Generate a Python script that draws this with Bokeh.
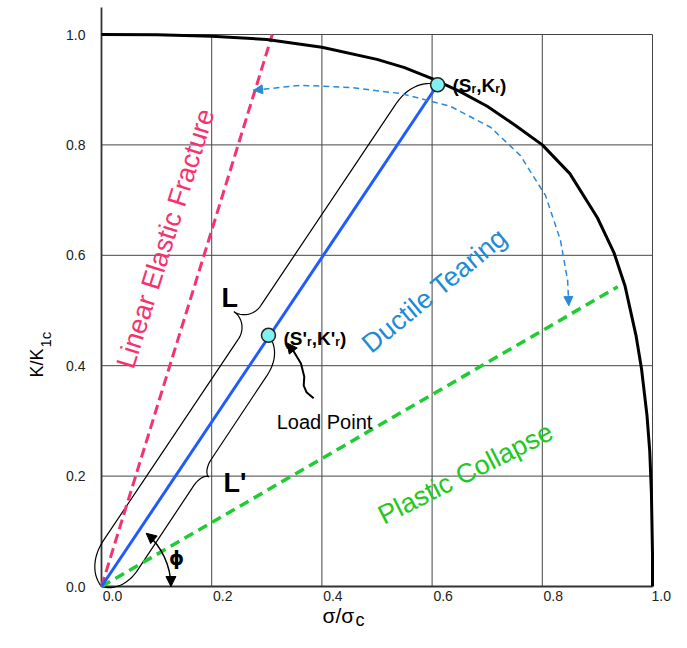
import numpy as np
from bokeh.plotting import figure
from bokeh.models import Range1d, FixedTicker, Label, Arrow, NormalHead
from bokeh.embed import file_html
from bokeh.resources import INLINE

# ---------------- data ----------------
tick_values = [0.0, 0.2, 0.4, 0.6, 0.8, 1.0]
tick_labels = ["0.0", "0.2", "0.4", "0.6", "0.8", "1.0"]
grid_values = [0.2, 0.4, 0.6, 0.8, 1.0]

# failure assessment curve
fad_s = [0.0, 0.1, 0.2, 0.3, 0.4, 0.5, 0.55, 0.6, 0.65, 0.7, 0.75, 0.8, 0.85,
         0.9, 0.93, 0.95, 0.97, 0.98, 0.99, 0.995, 0.998, 1.0, 1.0]
fad_k = [1.0, 0.9997, 0.997, 0.991, 0.977, 0.955, 0.940, 0.920, 0.897, 0.870,
         0.836, 0.800, 0.748, 0.668, 0.605, 0.545, 0.455, 0.395, 0.31, 0.245,
         0.17, 0.06, 0.0]

origin = (0.0, 0.0)
sr_point = (0.61, 0.909)      # (Sr, Kr)
load_point = (0.303, 0.455)   # (S'r, K'r)
lef_end = (0.31, 1.0)         # linear elastic fracture line end
pc_end = (0.937, 0.543)       # plastic collapse line end

# ductile tearing sweep arrow
arc_s = [0.276, 0.361, 0.452, 0.543, 0.633, 0.706, 0.760, 0.806, 0.833, 0.846, 0.848]
arc_k = [0.899, 0.908, 0.904, 0.893, 0.870, 0.832, 0.781, 0.708, 0.627, 0.554, 0.509]

# load point pointer
ptr_s = [0.385, 0.372, 0.367, 0.368, 0.362, 0.350, 0.343]
ptr_k = [0.341, 0.352, 0.364, 0.380, 0.404, 0.424, 0.433]

phi_radius = 0.126
phi_angle = 0.87

PX = 1 / 551.5  # data units per screen pixel

W, H = 671, 632
X0, X1 = -101 / 551.0, (W - 101) / 551.0
Y0, Y1 = -(H - 586) / 552.0, 586 / 552.0
Y_AXIS_TOP = 579 / 552.0

p = figure(width=W, height=H, x_range=Range1d(X0, X1), y_range=Range1d(Y0, Y1),
           output_backend="svg", toolbar_location=None,
           min_border=0, min_border_left=0, min_border_right=0, min_border_top=0, min_border_bottom=0)
p.outline_line_color = None
p.xgrid.visible = False
p.ygrid.visible = False

FONT = "Liberation Sans"

xshift = [0.02, 0.02, 0.02, 0.02, 0.02, 0.016]
xa = p.xaxis[0]
xa.ticker = FixedTicker(ticks=[t + s for t, s in zip(tick_values, xshift)])
xa.major_label_overrides = {t + s: lab for t, s, lab in zip(tick_values, xshift, tick_labels)}
ya = p.yaxis[0]
ya.ticker = FixedTicker(ticks=tick_values)
ya.major_label_overrides = {t: lab for t, lab in zip(tick_values, tick_labels)}
for ax, so in ((xa, 4), (ya, 16)):
    ax.fixed_location = 0
    ax.axis_line_color = None
    ax.major_tick_line_color = None
    ax.minor_tick_line_color = None
    ax.major_tick_out = 0
    ax.major_tick_in = 0
    ax.major_label_standoff = so
    ax.major_label_text_font = FONT
    ax.major_label_text_font_size = "14px"
    ax.major_label_text_color = "#222222"

# grid box
n = len(grid_values)
p.segment(x0=grid_values, y0=[0] * n, x1=grid_values, y1=[1.0] * n, line_color="#454545", line_width=1)
p.segment(x0=[0] * n, y0=grid_values, x1=[1.0] * n, y1=grid_values, line_color="#454545", line_width=1)
p.segment(x0=[0, 0], y0=[0, 0], x1=[0, 1.0], y1=[Y_AXIS_TOP, 0], line_color="#333333", line_width=1.8)

# braces
def bez(p0, p1, p2, p3, m=24):
    t = np.linspace(0, 1, m)[:, None]
    return ((1 - t) ** 3) * p0 + 3 * ((1 - t) ** 2) * t * p1 + 3 * (1 - t) * t ** 2 * p2 + t ** 3 * p3

def brace(a, b, side, d, D, c, ce):
    a = np.array(a, float); b = np.array(b, float)
    L = np.linalg.norm(b - a); u = (b - a) / L
    nn = np.array([-u[1], u[0]]) * side
    P = lambda t, s: a + u * t + nn * s
    m = L / 2
    pts = [
        bez(P(0, 0), P(0.1 * ce, 0.55 * d), P(0.45 * ce, d), P(ce, d)),
        bez(P(m - c, d), P(m - 0.45 * c, d), P(m, d + 0.45 * (D - d)), P(m, D)),
        bez(P(m, D), P(m, d + 0.45 * (D - d)), P(m + 0.45 * c, d), P(m + c, d)),
        bez(P(L - ce, d), P(L - 0.45 * ce, d), P(L - 0.1 * ce, 0.55 * d), P(L, 0)),
    ]
    arr = np.vstack(pts)
    return arr[:, 0], arr[:, 1]

bx, by = brace(origin, sr_point, +1, 24 * PX, 43 * PX, 20 * PX, 40 * PX)
p.line(bx, by, line_color="black", line_width=1.2)
bx, by = brace(origin, load_point, -1, 21 * PX, 29 * PX, 16 * PX, 34 * PX)
p.line(bx, by, line_color="black", line_width=1.2)

# main lines
p.line([origin[0], lef_end[0]], [origin[1], lef_end[1]], line_color="#f5336e", line_width=3, line_dash="10 5")
p.line([origin[0], pc_end[0]], [origin[1], pc_end[1]], line_color="#1fcc33", line_width=3.5, line_dash="10 6")
p.line(fad_s, fad_k, line_color="black", line_width=3)
p.line([origin[0], sr_point[0]], [origin[1], sr_point[1]], line_color="#1f5cff", line_width=3)

# sweep arc
ARC_C = "#2a8ad8"
p.line(arc_s, arc_k, line_color=ARC_C, line_width=1.5, line_dash="6 4")
for i0, i1 in ((1, 0), (-2, -1)):
    p.add_layout(Arrow(end=NormalHead(size=9, fill_color=ARC_C, line_color=ARC_C),
                       x_start=arc_s[i0], y_start=arc_k[i0], x_end=arc_s[i1], y_end=arc_k[i1],
                       line_alpha=0))

# phi arc
p.arc(x=0, y=0, radius=phi_radius, start_angle=0, end_angle=phi_angle, line_color="black", line_width=1.5)
p.add_layout(Arrow(end=NormalHead(size=10, fill_color="black", line_color="black"),
                   x_start=phi_radius, y_start=0.02, x_end=phi_radius, y_end=0.0, line_alpha=0))
ex, ey = phi_radius * np.cos(phi_angle), phi_radius * np.sin(phi_angle)
p.add_layout(Arrow(end=NormalHead(size=10, fill_color="black", line_color="black"),
                   x_start=ex + 0.02 * np.sin(phi_angle), y_start=ey - 0.02 * np.cos(phi_angle),
                   x_end=ex, y_end=ey, line_alpha=0))

# pointer
p.line(ptr_s, ptr_k, line_color="black", line_width=2)
p.add_layout(Arrow(end=NormalHead(size=10, fill_color="black", line_color="black"),
                   x_start=ptr_s[-2], y_start=ptr_k[-2], x_end=ptr_s[-1] - 0.006, y_end=ptr_k[-1] + 0.008,
                   line_alpha=0))

# points
p.scatter([sr_point[0], load_point[0]], [sr_point[1], load_point[1]], size=14,
          fill_color="#80f0f0", line_color="#222222", line_width=1.5)

def txt(x, y, text, size, color="black", bold=False, angle=0.0, align="left",
        baseline="alphabetic", xo=0, yo=0, font=FONT):
    p.add_layout(Label(x=x, y=y, text=text, text_font=font, text_font_size=f"{size}px",
                       text_font_style="bold" if bold else "normal", text_color=color,
                       angle=angle, text_align=align, text_baseline=baseline,
                       x_offset=xo, y_offset=yo))

def px2d(px, py):
    return (px - 101) / 551.0, (586 - py) / 552.0

# axis titles
x, y = px2d(36, 377)
txt(x, y, "K/K", 18, angle=np.pi / 2)
txt(x, y, "1c", 15, angle=np.pi / 2, xo=9, yo=30)
x, y = px2d(322, 615)
txt(x, y, "σ/σ", 21)
txt(x, y, "c", 18, xo=33, yo=-4)

# region labels
x, y = px2d(165, 238)
txt(x, y, "Linear Elastic Fracture", 27, "#f5336e", angle=np.deg2rad(72.5), align="center", baseline="middle")
x, y = px2d(434, 290)
txt(x, y, "Ductile Tearing", 27, "#1e8bd6", angle=np.deg2rad(39.5), align="center", baseline="middle")
x, y = px2d(465, 473)
txt(x, y, "Plastic Collapse", 27, "#22c822", angle=np.deg2rad(27), align="center", baseline="middle")

# L, L'
x, y = px2d(221, 297)
txt(x, y, "L", 27, bold=True)
x, y = px2d(223, 482)
txt(x, y, "L'", 27, bold=True)

# phi
x, y = px2d(176, 557)
txt(x, y, "ϕ", 19, bold=True, align="center", baseline="middle", font="DejaVu Sans")

def composite(px, py, pieces, size, sub, bold=True, drop=3):
    x, y = px2d(px, py)
    off = 0.0
    for t, is_sub, w in pieces:
        txt(x, y, t, sub if is_sub else size, bold=bold, xo=off, yo=-drop if is_sub else 0)
        off += w

composite(452, 85, [("(S", False, 19.0), ("r", True, 4.7), (",K", False, 19.0),
                    ("r", True, 4.7), (")", False, 6.3)], 19, 12)
composite(283, 338, [("(S'", False, 23.5), ("r", True, 4.7), (",K'", False, 23.5),
                     ("r", True, 4.7), (")", False, 6.3)], 19, 12)

x, y = px2d(324, 421)
txt(x, y, "Load Point", 20, align="center")

open("out.html", "w").write(file_html(p, INLINE))
